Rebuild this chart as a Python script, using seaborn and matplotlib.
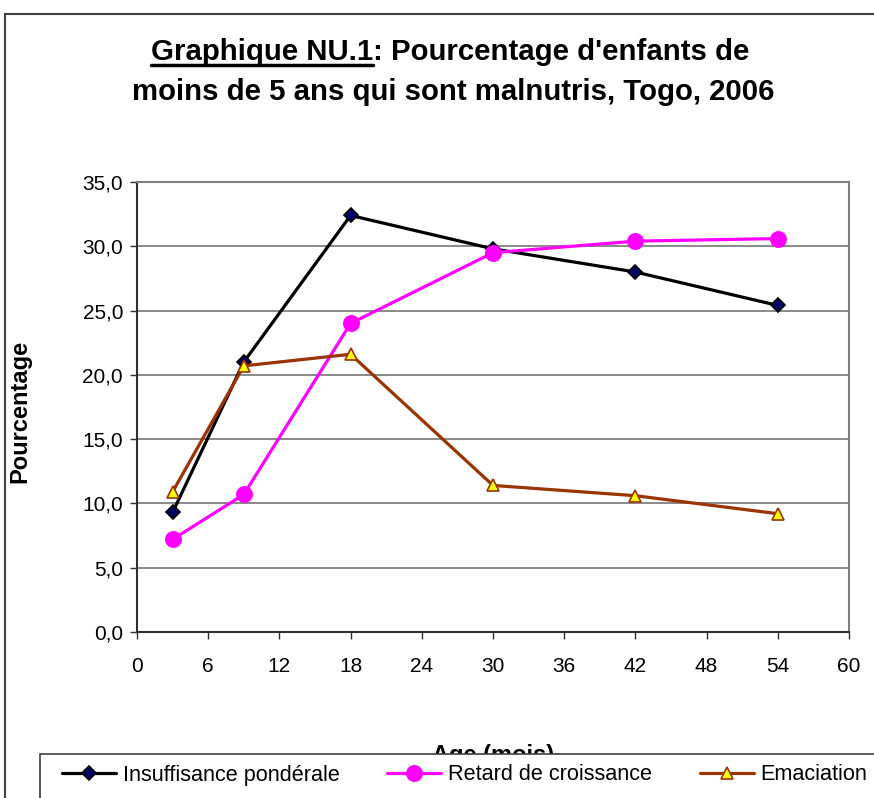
import seaborn as sns
import pandas as pd
import numpy as np
import matplotlib.pyplot as plt
from matplotlib.patches import Rectangle
from matplotlib.lines import Line2D

### Data
age_mois = [3, 9, 18, 30, 42, 54]
insuffisance = [9.3, 21.0, 32.4, 29.8, 28.0, 25.4]
retard = [7.2, 10.7, 24.0, 29.5, 30.4, 30.6]
emaciation = [10.9, 20.7, 21.6, 11.4, 10.6, 9.2]
series_names = ['Insuffisance pondérale', 'Retard de croissance', 'Emaciation']

df = pd.DataFrame({'age': age_mois * 3,
                   'pct': insuffisance + retard + emaciation,
                   'serie': np.repeat(series_names, len(age_mois))})

sns.set_style('white')
plt.rcParams['font.family'] = ['Liberation Sans', 'DejaVu Sans']
plt.rcParams['text.color'] = 'black'
plt.rcParams['axes.labelcolor'] = 'black'
plt.rcParams['xtick.color'] = 'black'
plt.rcParams['ytick.color'] = 'black'

W, H = 874, 798
fig = plt.figure(figsize=(W / 100, H / 100), dpi=100)
ax = fig.add_axes([137 / W, 1 - 632 / H, (849 - 137) / W, (632 - 182) / H])

# outer chart frame
fig.patches.append(Rectangle((5 / W, -0.1), 1.2, 1 - 14 / H + 0.1, transform=fig.transFigure,
                             fill=False, edgecolor='#404040', linewidth=1.5))

styles = {
    'Insuffisance pondérale': dict(color='black', marker='D', markersize=7,
                                   markerfacecolor='#000066', markeredgecolor='black'),
    'Retard de croissance': dict(color='#FF00FF', marker='o', markersize=11,
                                 markerfacecolor='#FF00FF', markeredgecolor='#FF00FF'),
    'Emaciation': dict(color='#993300', marker='^', markersize=9,
                       markerfacecolor='#FFFF00', markeredgecolor='#993300'),
}
for name in series_names:
    sub = df[df['serie'] == name]
    sns.lineplot(data=sub, x='age', y='pct', ax=ax, linewidth=2.3, label=name,
                 markeredgewidth=1.2, **styles[name])

ax.set_xlim(0, 60)
ax.set_ylim(0, 35)
ax.set_xticks(range(0, 61, 6))
ax.set_yticks(np.arange(0, 36, 5))
ax.set_yticklabels([f'{v:.1f}'.replace('.', ',') for v in np.arange(0, 36, 5)])
ax.yaxis.grid(True, color='#808080', linewidth=1.3)
ax.set_axisbelow(True)
ax.tick_params(axis='both', which='both', direction='out', length=5, width=1,
               color='#303030', labelsize=15, left=True, bottom=True, pad=5)
ax.tick_params(axis='x', pad=13)
for s in ['left', 'bottom']:
    ax.spines[s].set_color('#303030')
    ax.spines[s].set_linewidth(1.5)
for s in ['top', 'right']:
    ax.spines[s].set_color('#808080')
    ax.spines[s].set_linewidth(1.5)

ax.set_ylabel('Pourcentage', fontsize=17, fontweight='bold')
ax.yaxis.set_label_coords(31 / W, 1 - 411 / H, transform=fig.transFigure)
# x label sits mostly behind the legend box, as in the original
ax.set_xlabel('Age (mois)', fontsize=17, fontweight='bold')
ax.xaxis.set_label_coords(493 / W, 1 - 744 / H, transform=fig.transFigure)

handles, labels = ax.get_legend_handles_labels()
ax.get_legend().remove()

# legend box (runs off the right and bottom edges like the original)
fig.patches.append(Rectangle((40 / W, -0.1), 1.2, 1 - 754 / H + 0.1, transform=fig.transFigure,
                             facecolor='white', edgecolor='#404040', linewidth=1.2, zorder=5))
leg = fig.legend(handles, labels, loc='center left', bbox_to_anchor=(62 / W, 1 - 775 / H),
                 ncol=3, frameon=False, fontsize=15.6, handlelength=2.5, handletextpad=0.3,
                 columnspacing=2.2, borderpad=0, borderaxespad=0)
leg.set_zorder(10)

# title with underlined first part
fig.canvas.draw()
r = fig.canvas.get_renderer()
tfs = 21.2
t1 = fig.text(0, 0, 'Graphique NU.1', fontsize=tfs, fontweight='bold')
t2 = fig.text(0, 0, ": Pourcentage d'enfants de", fontsize=tfs, fontweight='bold')
w1 = t1.get_window_extent(r).width
w2 = t2.get_window_extent(r).width
x0 = 450 - (w1 + w2) / 2
y1 = H - 60
t1.set_position((x0 / W, y1 / H))
t2.set_position(((x0 + w1) / W, y1 / H))
fig.lines.append(Line2D([x0 / W, (x0 + w1) / W], [(y1 - 5) / H] * 2,
                        transform=fig.transFigure, color='black', linewidth=2.5))
fig.text(453 / W, (H - 100) / H, 'moins de 5 ans qui sont malnutris, Togo, 2006',
         fontsize=tfs, fontweight='bold', ha='center')

fig.savefig('out.png', dpi=100)
